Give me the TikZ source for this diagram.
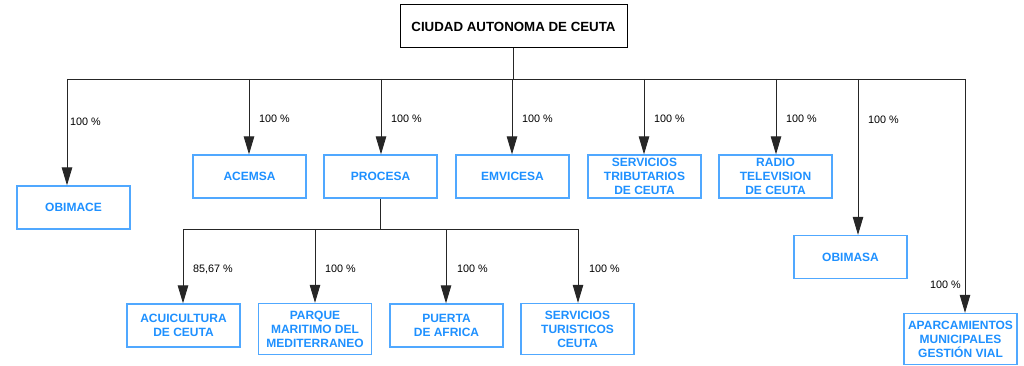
\documentclass[tikz,border=0pt]{standalone}
\usepackage{fontspec}
\setmainfont{Liberation Sans}
\usetikzlibrary{arrows.meta}
\definecolor{boxblue}{RGB}{80,168,255}
\definecolor{txtblue}{RGB}{30,144,255}
\begin{document}
\begin{tikzpicture}[x=1pt,y=-1pt,
  company/.style={draw=boxblue, line width=1.3pt, text=txtblue,
    font=\bfseries\fontsize{12}{14}\selectfont, align=center,
    minimum width=113pt, minimum height=43pt, inner sep=0pt},
  tall/.style={minimum height=51pt},
  topbox/.style={draw=black, line width=1pt, font=\bfseries\fontsize{13.3}{15}\selectfont,
    minimum width=227pt, minimum height=43pt, inner sep=0pt},
  conn/.style={draw=black!85, line width=0.9pt},
  arr/.style={conn, -{Triangle[length=18pt,width=10.5pt]}},
  pct/.style={font=\fontsize{10.8}{12}\selectfont, inner sep=0pt, anchor=west}]
\useasboundingbox (0,0) rectangle (1024,366);

% nodes
\node[topbox] (top) at (513.5,26.5) {CIUDAD AUTONOMA DE CEUTA};
\node[company] (obimace) at (73.5,207.5) {OBIMACE};
\node[company] (acemsa) at (249.5,176.5) {ACEMSA};
\node[company] (procesa) at (380.5,176.5) {PROCESA};
\node[company] (emvicesa) at (512.5,176.5) {EMVICESA};
\node[company] (trib) at (644.5,176.5) {SERVICIOS\\TRIBUTARIOS\\DE CEUTA};
\node[company] (radio) at (775.5,176.5) {RADIO\\TELEVISION\\DE CEUTA};
\node[company] (obimasa) at (850.5,257) {OBIMASA};
\node[company, tall] (aparc) at (960.5,339) {APARCAMIENTOS\\MUNICIPALES\\GESTIÓN VIAL};
\node[company] (acui) at (183.5,325.5) {ACUICULTURA\\DE CEUTA};
\node[company, tall] (parque) at (315,329) {PARQUE\\MARITIMO DEL\\MEDITERRANEO};
\node[company] (puerta) at (446.5,325.5) {PUERTA\\DE AFRICA};
\node[company, tall] (tur) at (577.5,329) {SERVICIOS\\TURISTICOS\\CEUTA};

% main bus
\coordinate (b1) at (67,79);
\coordinate (b2) at (249,79);
\coordinate (b3) at (381,79);
\coordinate (b4) at (512,79);
\coordinate (b5) at (644,79);
\coordinate (b6) at (776,79);
\coordinate (b7) at (858,79);
\coordinate (b8) at (965,79);
\draw[conn] (top.south) -- (top.south |- b1);
\draw[conn] (b1) -- (b8);
\draw[arr] (b1) -- (b1 |- obimace.north);
\draw[arr] (b2) -- (b2 |- acemsa.north);
\draw[arr] (b3) -- (b3 |- procesa.north);
\draw[arr] (b4) -- (b4 |- emvicesa.north);
\draw[arr] (b5) -- (b5 |- trib.north);
\draw[arr] (b6) -- (b6 |- radio.north);
\draw[arr] (b7) -- (b7 |- obimasa.north);
\draw[arr] (b8) -- (b8 |- aparc.north);

% sub bus
\coordinate (s1) at (183,229);
\coordinate (s2) at (315,229);
\coordinate (s3) at (446,229);
\coordinate (s4) at (578,229);
\draw[conn] (procesa.south) -- (procesa.south |- s1);
\draw[conn] (s1) -- (s4);
\draw[arr] (s1) -- (s1 |- acui.north);
\draw[arr] (s2) -- (s2 |- parque.north);
\draw[arr] (s3) -- (s3 |- puerta.north);
\draw[arr] (s4) -- (s4 |- tur.north);

% labels
\node[pct] (l1) at (70,122) {100 \%};
\node[pct] (l2) at (259,119) {100 \%};
\node[pct] (l3) at (391,119) {100 \%};
\node[pct] (l4) at (522,119) {100 \%};
\node[pct] (l5) at (654,119) {100 \%};
\node[pct] (l6) at (786,119) {100 \%};
\node[pct] (l7) at (868,120) {100 \%};
\node[pct, anchor=east] (l8) at (961,285) {100 \%};
\node[pct] (l9) at (193,269) {85,67 \%};
\node[pct] (l10) at (325,269) {100 \%};
\node[pct] (l11) at (457,269) {100 \%};
\node[pct] (l12) at (589,269) {100 \%};
\end{tikzpicture}
\end{document}
